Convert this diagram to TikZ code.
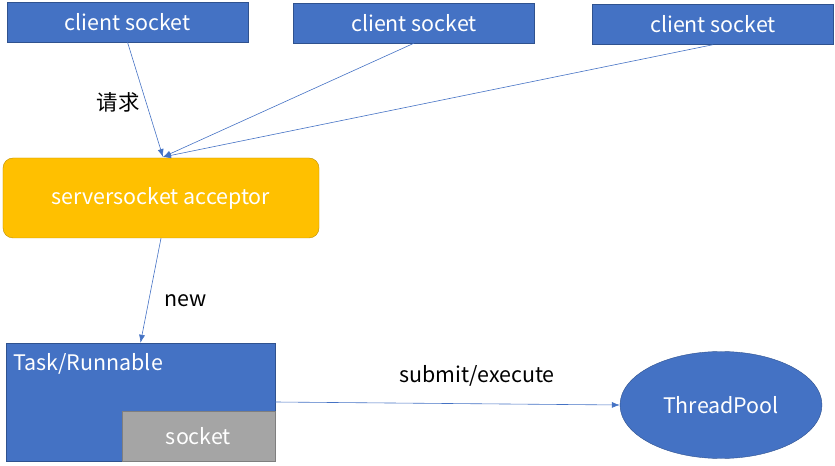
\documentclass[tikz,border=0pt]{standalone}
\usepackage{fontspec}
\setmainfont{Noto Sans CJK SC}
\usepackage{tikz}
\usetikzlibrary{arrows.meta,shapes.geometric}
\definecolor{ofblue}{HTML}{4472C4}
\definecolor{ofblueline}{HTML}{2F528F}
\definecolor{ofgold}{HTML}{FFC000}
\definecolor{ofgoldline}{HTML}{BF9000}
\definecolor{ofgray}{HTML}{A5A5A5}
\definecolor{ofgrayline}{HTML}{7F7F7F}
\tikzset{
  client/.style={draw=ofblueline,fill=ofblue,text=white,minimum width=241bp,minimum height=40bp,inner sep=0pt},
  server/.style={draw=ofgoldline,fill=ofgold,text=white,rounded corners=10bp,minimum width=316bp,minimum height=80bp,inner sep=0pt},
  taskbox/.style={draw=ofblueline,fill=ofblue,minimum width=269bp,minimum height=118bp,inner sep=0pt},
  sockbox/.style={draw=ofgrayline,fill=ofgray,text=white,minimum width=153bp,minimum height=50bp,inner sep=0pt},
  pool/.style={ellipse,draw=ofblueline,fill=ofblue,text=white,minimum width=202bp,minimum height=107bp,inner sep=0pt},
  ar/.style={-{Latex[length=8bp,width=6bp]},draw=ofblue,line width=0.6bp},
  lbl/.style={text=black},
}

\begin{document}
\begin{tikzpicture}[x=1bp,y=-1bp,every node/.style={font=\fontsize{21.5}{24}\selectfont}]
  \useasboundingbox (0,0) rectangle (835,466);
  % clients
  \node[client] (c1) at (127.5,22) {client socket};
  \node[client] (c2) at (414,23) {client socket};
  \node[client] (c3) at (713,24.5) {client socket};
  % acceptor
  \node[server] (srv) at (161,198) {serversocket acceptor};
  \coordinate (in) at (163,157);
  \draw[ar] (c1.south) -- (in);
  \draw[ar] (c2.south) -- (in);
  \draw[ar] (c3.south) -- (in);
  \node[lbl] (req) at (118,102) {请求};
  % task
  \node[taskbox] (task) at (140.5,402) {};
  \node[text=white,anchor=west] (tasklbl) at (10,364) {Task/Runnable};
  \node[sockbox] (sock) at (198.5,436) {socket};
  \draw[ar] (srv.south) -- (task.north);
  \node[lbl] (new) at (186,301) {new};
  % pool
  \node[pool] (tp) at (721,405) {ThreadPool};
  \draw[ar] (task.east) -- (tp.west);
  \node[lbl] (sub) at (477,376) {submit/execute};
\end{tikzpicture}
\end{document}
